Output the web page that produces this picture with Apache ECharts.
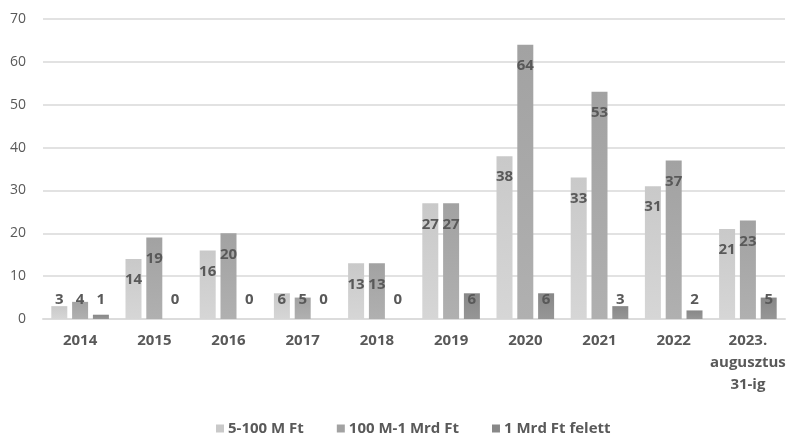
<!DOCTYPE html>
<html>
<head>
<meta charset="utf-8">
<script src="https://cdn.jsdelivr.net/npm/echarts@6/dist/echarts.min.js"></script>
<style>
html,body{margin:0;padding:0;background:#fff;}
#chart{width:790px;height:433px;}
</style>
</head>
<body>
<div id="chart"></div>
<script>
const categories = ['2014','2015','2016','2017','2018','2019','2020','2021','2022','2023.\naugusztus\n31-ig'];
const seriesNames = ['5-100 M Ft','100 M-1 Mrd Ft','1 Mrd Ft felett'];
const s1 = [3,14,16,6,13,27,38,33,31,21];
const s2 = [4,19,20,5,13,27,64,53,37,23];
const s3 = [1,0,0,0,0,6,6,3,2,5];
const yTicks = [0,10,20,30,40,50,60,70];

const colors = [
  ['#c9c9c9','#d6d6d6'],
  ['#a2a2a2','#b0b0b0'],
  ['#888888','#969696']
];
const FONT = '"Open Sans", "DejaVu Sans", sans-serif';

function toData(arr){
  return arr.map(v => ({
    value: v,
    label: v >= 10
      ? {position: 'insideTop', distance: 14}
      : {position: 'insideBottom', distance: 12}
  }));
}

const chart = echarts.init(document.getElementById('chart'));
const allSeries = [s1, s2, s3].map((arr, i) => ({
  name: seriesNames[i],
  type: 'bar',
  barWidth: 16,
  barGap: '30%',
  data: toData(arr),
  itemStyle: {
    color: new echarts.graphic.LinearGradient(0,0,0,1,[
      {offset:0,color:colors[i][0]},{offset:1,color:colors[i][1]}
    ])
  },
  label: {
    show: true,
    color: '#595959',
    fontFamily: FONT,
    fontWeight: 'bold',
    fontSize: 15,
    lineHeight: 14
  }
}));

chart.setOption({
  animation: false,
  backgroundColor: '#ffffff',
  grid: {left: 43, right: 5, top: 19, bottom: 114, containLabel: false},
  legend: {
    data: seriesNames.map((n, i) => ({name: n, itemStyle: {color: colors[i][0]}})),
    left: 211,
    top: 416,
    itemWidth: 8,
    itemHeight: 8,
    itemGap: 33,
    icon: 'rect',
    textStyle: {color: '#595959', fontFamily: FONT, fontWeight: 'bold', fontSize: 15, padding: [0,0,0,-1]}
  },
  xAxis: {
    type: 'category',
    data: categories,
    axisTick: {show: false},
    axisLine: {lineStyle: {color: '#dcdcdc', width: 2}},
    axisLabel: {
      color: '#595959', fontFamily: FONT, fontWeight: 'bold', fontSize: 15,
      lineHeight: 22, margin: 11, interval: 0
    }
  },
  yAxis: {
    type: 'value',
    min: yTicks[0],
    max: yTicks[yTicks.length-1],
    interval: 10,
    axisLine: {show: false},
    axisTick: {show: false},
    splitLine: {lineStyle: {color: '#e2e2e2', width: 2}},
    axisLabel: {color: '#595959', fontFamily: FONT, fontSize: 14, margin: 17}
  },
  series: allSeries
});
</script>
</body>
</html>
